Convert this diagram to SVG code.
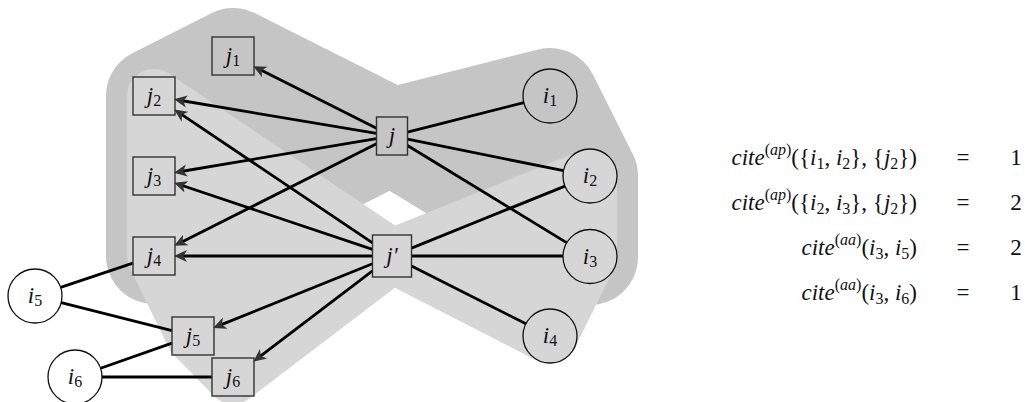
<svg xmlns="http://www.w3.org/2000/svg" width="1025" height="402" viewBox="0 0 1025 402">
<style>
.dark{fill:#c5c5c5;stroke:#c5c5c5;stroke-width:96;stroke-linejoin:round}
.light{fill:#d6d6d6;stroke:#d6d6d6;stroke-width:54;stroke-linejoin:round}
.box{fill:none;stroke:#333;stroke-width:1.4}
.circ{fill:none;stroke:#111;stroke-width:1.3}
.wc{fill:#fff;stroke:#111;stroke-width:1.3}
.e{stroke:#000;stroke-width:2.8;fill:none}
.a{stroke:#000;stroke-width:2.8;fill:none;marker-end:url(#ah)}
text{font-family:'Liberation Serif',serif;fill:#111}
.lbl{font-size:23px;font-style:italic}
.sb{font-size:16px;font-style:normal}
.f{font-size:23px}
.it{font-style:italic}
.sup{font-size:16px}
</style>
<defs>
<marker id="ah" viewBox="0 -7 14 14" refX="6" refY="0" markerWidth="14" markerHeight="14" markerUnits="userSpaceOnUse" orient="auto">
<path d="M13,0 L0,-6 L3.5,0 L0,6 Z" fill="#333"/>
</marker>
</defs>
<g id="regions">
<polygon class="dark" points="233,56 154,96 154,256 392,136"/>
<polygon class="dark" points="392,136 550,96 590,176 590,257"/>
<polygon class="light" points="154,96 154,256 193,336 233,377 392,256"/>
<polygon class="light" points="392,256 590,176 590,257 550,337"/>
</g>
<g id="connectors">
<line class="a" x1="376.5" y1="128.2" x2="259.4" y2="69.3"/>
<line class="a" x1="376.5" y1="133.4" x2="180.9" y2="100.5"/>
<line class="a" x1="376.5" y1="138.6" x2="180.9" y2="171.5"/>
<line class="a" x1="376.5" y1="143.8" x2="180.4" y2="242.7"/>
<line class="a" x1="372.5" y1="242.9" x2="180" y2="113.4"/>
<line class="a" x1="372.5" y1="249.4" x2="180.7" y2="185"/>
<line class="a" x1="372.5" y1="256" x2="181" y2="256"/>
<line class="a" x1="372.5" y1="263.8" x2="219.6" y2="325.4"/>
<line class="a" x1="372.5" y1="270.8" x2="258.8" y2="357.4"/>
<line class="e" x1="407.5" y1="132.1" x2="523.8" y2="102.6"/>
<line class="e" x1="407.5" y1="139.1" x2="563.5" y2="170.7"/>
<line class="e" x1="407.5" y1="145.5" x2="567" y2="242.9"/>
<line class="e" x1="411.5" y1="248.1" x2="565" y2="186.1"/>
<line class="e" x1="411.5" y1="256" x2="563" y2="256"/>
<line class="e" x1="411.5" y1="265.9" x2="525.9" y2="323.8"/>
<line class="e" x1="60.6" y1="287.4" x2="133" y2="263.1"/>
<line class="e" x1="61.2" y1="302.6" x2="172" y2="330.7"/>
<line class="e" x1="100.6" y1="368.3" x2="172" y2="343.1"/>
<line class="e" x1="102" y1="377" x2="212" y2="377"/>
</g>
<g id="j1"><rect class="box" x="212" y="37" width="42" height="38"/><text class="lbl" x="233" y="63" text-anchor="middle">j<tspan class="sb" dy="3">1</tspan></text></g>
<g id="j2"><rect class="box" x="133" y="77" width="42" height="38"/><text class="lbl" x="154" y="103" text-anchor="middle">j<tspan class="sb" dy="3">2</tspan></text></g>
<g id="j3"><rect class="box" x="133" y="157" width="42" height="38"/><text class="lbl" x="154" y="183" text-anchor="middle">j<tspan class="sb" dy="3">3</tspan></text></g>
<g id="j4"><rect class="box" x="133" y="237" width="42" height="38"/><text class="lbl" x="154" y="263" text-anchor="middle">j<tspan class="sb" dy="3">4</tspan></text></g>
<g id="j5"><rect class="box" x="172" y="317" width="42" height="38"/><text class="lbl" x="193" y="343" text-anchor="middle">j<tspan class="sb" dy="3">5</tspan></text></g>
<g id="j6"><rect class="box" x="212" y="358" width="42" height="38"/><text class="lbl" x="233" y="384" text-anchor="middle">j<tspan class="sb" dy="3">6</tspan></text></g>
<g id="j"><rect class="box" x="376.5" y="117" width="31" height="38"/><text class="lbl" x="392" y="143" text-anchor="middle">j</text></g>
<g id="jp"><rect class="box" x="372.5" y="235" width="39" height="42"/><text class="lbl" x="392" y="263" text-anchor="middle">j′</text></g>
<g id="i1"><circle class="circ" cx="550" cy="96" r="27"/><text class="lbl" x="550" y="103" text-anchor="middle">i<tspan class="sb" dy="3">1</tspan></text></g>
<g id="i2"><circle class="circ" cx="590" cy="176" r="27"/><text class="lbl" x="590" y="183" text-anchor="middle">i<tspan class="sb" dy="3">2</tspan></text></g>
<g id="i3"><circle class="circ" cx="590" cy="256.5" r="27"/><text class="lbl" x="590" y="263.5" text-anchor="middle">i<tspan class="sb" dy="3">3</tspan></text></g>
<g id="i4"><circle class="circ" cx="550" cy="336" r="27"/><text class="lbl" x="550" y="343" text-anchor="middle">i<tspan class="sb" dy="3">4</tspan></text></g>
<g id="i5"><circle class="wc" cx="35" cy="296" r="27"/><text class="lbl" x="35" y="303" text-anchor="middle">i<tspan class="sb" dy="3">5</tspan></text></g>
<g id="i6"><circle class="wc" cx="75" cy="377" r="27"/><text class="lbl" x="75" y="384" text-anchor="middle">i<tspan class="sb" dy="3">6</tspan></text></g>
<g id="formulas">
<text class="f" x="917" y="165" text-anchor="end"><tspan class="it">cite</tspan><tspan class="sup" dy="-10">(<tspan class="it">ap</tspan>)</tspan><tspan dy="10">({</tspan><tspan class="it">i</tspan><tspan class="sb" dy="4">1</tspan><tspan dy="-4">, </tspan><tspan class="it">i</tspan><tspan class="sb" dy="4">2</tspan><tspan dy="-4">}, {</tspan><tspan class="it">j</tspan><tspan class="sb" dy="4">2</tspan><tspan dy="-4">})</tspan></text>
<text class="f" x="963" y="165" text-anchor="middle">=</text>
<text class="f" x="1016" y="165" text-anchor="middle">1</text>
<text class="f" x="917" y="210" text-anchor="end"><tspan class="it">cite</tspan><tspan class="sup" dy="-10">(<tspan class="it">ap</tspan>)</tspan><tspan dy="10">({</tspan><tspan class="it">i</tspan><tspan class="sb" dy="4">2</tspan><tspan dy="-4">, </tspan><tspan class="it">i</tspan><tspan class="sb" dy="4">3</tspan><tspan dy="-4">}, {</tspan><tspan class="it">j</tspan><tspan class="sb" dy="4">2</tspan><tspan dy="-4">})</tspan></text>
<text class="f" x="963" y="210" text-anchor="middle">=</text>
<text class="f" x="1016" y="210" text-anchor="middle">2</text>
<text class="f" x="917" y="255" text-anchor="end"><tspan class="it">cite</tspan><tspan class="sup" dy="-10">(<tspan class="it">aa</tspan>)</tspan><tspan dy="10">(</tspan><tspan class="it">i</tspan><tspan class="sb" dy="4">3</tspan><tspan dy="-4">, </tspan><tspan class="it">i</tspan><tspan class="sb" dy="4">5</tspan><tspan dy="-4">)</tspan></text>
<text class="f" x="963" y="255" text-anchor="middle">=</text>
<text class="f" x="1016" y="255" text-anchor="middle">2</text>
<text class="f" x="917" y="300" text-anchor="end"><tspan class="it">cite</tspan><tspan class="sup" dy="-10">(<tspan class="it">aa</tspan>)</tspan><tspan dy="10">(</tspan><tspan class="it">i</tspan><tspan class="sb" dy="4">3</tspan><tspan dy="-4">, </tspan><tspan class="it">i</tspan><tspan class="sb" dy="4">6</tspan><tspan dy="-4">)</tspan></text>
<text class="f" x="963" y="300" text-anchor="middle">=</text>
<text class="f" x="1016" y="300" text-anchor="middle">1</text>
</g>
</svg>
